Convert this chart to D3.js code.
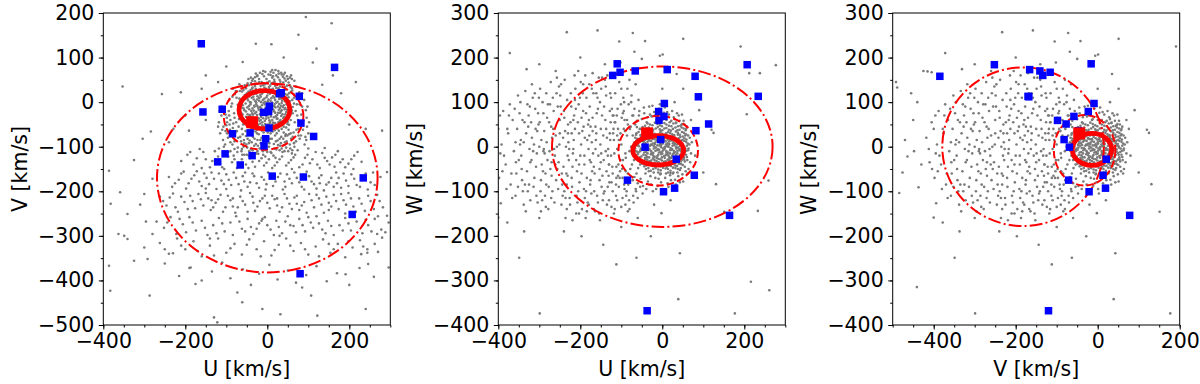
<!DOCTYPE html>
<html>
<head>
<meta charset="utf-8">
<script src="https://cdn.jsdelivr.net/npm/d3@7"></script>
<style>
  body { margin: 0; background: #fff; }
  svg.vis { display: block; font-family: "DejaVu Sans", sans-serif; }
</style>
</head>
<body>
<svg class="vis" width="1200" height="384"></svg>
<script>

// ---- data (km/s) ----

// field stars, U-V plane (left panel)
const gray_uv = [
  // thin disc core
  [-20,52],[-8,58],[3,62],[12,55],[22,60],[30,50],[38,57],[-30,47],[45,48],[5,47],[18,45],[-14,45],[28,64],[52,44],
  [-45,38],[-36,33],[-25,41],[-16,36],[-5,40],[4,34],[10,42],[19,37],[27,31],[35,40],[43,34],[55,38],[-52,31],[-3,30],[14,30],[-28,30],[60,31],
  [-62,24],[-50,20],[-41,27],[-33,18],[-22,25],[-12,21],[-4,27],[6,19],[15,24],[23,17],[31,26],[40,20],[49,16],[57,23],[-17,16],[0,15],[11,28],[36,15],[-55,16],[64,18],[-28,22],[26,23],
  [-68,8],[-58,12],[-47,4],[-38,10],[-29,2],[-20,9],[-11,5],[-2,11],[8,3],[17,10],[25,1],[34,8],[43,2],[52,11],[61,5],[-44,13],[-15,0],[3,6],[21,14],[38,13],[-33,6],[12,-1],[29,7],[47,7],[-24,13],[-6,1],
  [-72,-6],[-63,-12],[-53,-3],[-45,-9],[-36,-14],[-27,-5],[-18,-11],[-9,-2],[0,-8],[9,-14],[18,-4],[26,-10],[35,-2],[44,-13],[53,-6],[62,-11],[-40,-1],[-22,-13],[-4,-12],[14,-9],[31,-13],[49,-1],[-58,-14],[-13,-7],[5,-3],[22,-1],[40,-7],[-31,-10],
  [-66,-22],[-56,-18],[-48,-27],[-39,-20],[-30,-25],[-21,-17],[-12,-28],[-3,-19],[6,-26],[15,-18],[24,-29],[33,-21],[42,-16],[51,-26],[60,-19],[-44,-16],[-25,-29],[-8,-24],[10,-22],[28,-17],[46,-22],[-16,-21],[2,-29],[19,-24],[37,-27],[-35,-28],[56,-29],[-60,-28],
  [-61,-37],[-52,-33],[-43,-41],[-34,-35],[-24,-39],[-15,-33],[-6,-42],[3,-35],[12,-40],[21,-32],[30,-43],[39,-36],[48,-31],[57,-40],[-28,-44],[-10,-36],[7,-44],[25,-37],[43,-43],[-47,-36],[16,-34],[34,-31],[-19,-42],[-2,-31],
  [-55,-49],[-46,-56],[-36,-51],[-26,-58],[-17,-48],[-8,-55],[1,-50],[10,-57],[19,-47],[28,-53],[37,-49],[46,-57],[53,-51],[-31,-47],[-12,-52],[6,-47],[24,-59],[41,-46],[-40,-59],[15,-53],[-3,-58],
  [-25,58],[-2,52],[8,61],[17,50],[26,56],[35,62],[42,53],[-12,63],[0,44],[-35,52],[50,52],[15,66],[32,46],
  [-40,43],[-30,36],[-20,45],[-10,38],[0,43],[7,37],[15,44],[24,40],[31,35],[39,44],[48,37],[-48,42],[57,34],[22,32],[-7,33],
  [-58,27],[-46,24],[-37,30],[-27,19],[-18,28],[-8,24],[2,21],[10,25],[19,20],[28,28],[36,23],[45,28],[53,20],[61,26],[-13,19],[5,29],[44,18],
  [-64,2],[-54,7],[-42,0],[-34,12],[-25,6],[-16,12],[-7,8],[1,2],[10,9],[19,5],[28,12],[36,3],[46,10],[55,2],[65,10],[-49,9],[-20,3],[14,13],[32,11],[42,9],
  [-69,-15],[-60,-7],[-49,-12],[-41,-5],[-32,-8],[-24,-9],[-15,-14],[-6,-5],[3,-11],[11,-6],[20,-12],[29,-4],[38,-11],[47,-5],[56,-13],[65,-3],[-27,-1],[-1,-3],[17,-9],[33,-8],[51,-10],
  [-63,-25],[-52,-21],[-42,-29],[-33,-19],[-27,-22],[-18,-27],[-9,-20],[0,-24],[9,-28],[17,-21],[26,-24],[35,-18],[44,-27],[53,-20],[62,-25],[-37,-25],[-5,-16],[13,-16],[31,-24],[48,-17],
  [-57,-40],[-48,-45],[-39,-33],[-30,-40],[-21,-36],[-12,-45],[-3,-37],[5,-41],[14,-46],[23,-37],[32,-40],[41,-33],[50,-44],[-44,-31],[-16,-40],[9,-32],[27,-45],[45,-35],
  [-50,-53],[-42,-48],[-33,-56],[-22,-51],[-14,-57],[-5,-49],[4,-55],[13,-49],[22,-56],[31,-50],[40,-55],[49,-49],[-25,-62],[0,-62],[18,-63],[35,-60],
  // thick disc
  [-118,-45],[-110,-62],[-102,-28],[-96,-80],[-92,-50],[-88,-10],[-85,-95],[-80,-35],[-78,-68],[-75,10],[-73,-112],[-70,-55],[-67,25],[-64,-88],[-60,-72],[-58,-100],[-55,38],[-53,-65],[-50,-118],[-48,-82],
  [-45,-92],[-42,-70],[-40,-105],[-37,48],[-35,-78],[-32,-98],[-29,-66],[-27,-115],[-24,-85],[-21,-72],[-19,-104],[-16,-92],[-13,-64],[-11,-110],[-8,-78],[-5,-122],[-2,-88],[1,-68],[4,-100],[7,-82],
  [10,-114],[13,-66],[16,-94],[19,-75],[22,-106],[25,-86],[28,-64],[31,-98],[34,-78],[37,-112],[40,-68],[43,-90],[46,-102],[49,-75],[52,-62],[55,-95],[58,-82],[61,-108],[64,-68],[67,-45],
  [70,-88],[73,-30],[76,-60],[79,-5],[82,-75],[85,20],[88,-42],[91,-95],[94,-18],[97,-55],[-98,-70],[-94,-20],[-90,-40],[-84,-58],[-82,-120],[-76,-45],[-71,-80],[-68,40],[-62,-60],[-57,-85],
  [-44,-110],[-38,-90],[-34,-62],[-23,-98],[-14,-80],[-6,-95],[0,-112],[8,-70],[15,-120],[21,-88],[33,-92],[39,-82],[45,-72],[51,-110],[57,-70],[66,-100],[69,-20],[74,10],[81,-50],[-108,-85],
  [-104,-15],[-100,-52],[-93,5],[-87,-75],[-81,-25],[-79,18],[-65,-5],[-63,-110],[-51,-95],[-30,56],[-18,66],[-10,70],[8,68],[20,72],[34,66],[48,58],[60,52],[70,35],[78,22],[85,-10],
  [96,-35],[100,-70],[-112,-30],[-106,-100],[-84,30],[-24,60],[14,58],[40,62],[-40,55],[55,55],
  [-115,-70],[-111,-10],[-107,-55],[-103,-95],[-99,-35],[-95,-112],[-91,-62],[-86,-3],[-83,-48],[-80,-88],[-77,25],[-74,-65],[-72,-102],[-69,-38],[-66,-78],[-61,-118],[-59,-50],[-56,-92],[-52,-76],[-49,-102],
  [-46,-65],[-43,-86],[-39,-72],[-36,-108],[-31,-82],[-28,-94],[-25,-70],[-22,-116],[-17,-85],[-12,-100],[-9,-68],[-4,-108],[2,-78],[5,-92],[11,-82],[17,-104],[23,-70],[26,-96],[30,-82],[35,-104],
  [41,-96],[44,-76],[47,-88],[53,-72],[56,-104],[62,-78],[65,-92],[71,-62],[75,-40],[79,-82],[83,-28],[87,-62],[90,5],[93,-78],[98,-10],[102,-45],[-98,-45],[-90,-90],[-85,12],[-70,-20],
  [-102,-65],[-93,-30],[-64,35],[-46,52],[-28,64],[-5,68],[12,72],[27,70],[43,66],[58,60],[66,48],[72,-5],[76,-75],[95,-85],[-116,-20],[-120,-55],[-45,-120],[20,-125],[60,-115],[-80,-105],
  // halo
  [-195,-118],[-180,-140],[-165,-105],[-150,-128],[-140,-146],[-128,-110],[-115,-138],[-105,-150],[-95,-122],[-86,-135],[-74,-148],[-62,-128],[-52,-140],[-42,-126],[-30,-145],[-20,-132],[-8,-142],[4,-128],[12,-148],[24,-135],
  [36,-122],[46,-142],[58,-130],[68,-118],[78,-146],[92,-125],[104,-137],[118,-112],[128,-148],[140,-125],[152,-140],[166,-118],[178,-135],[190,-146],[205,-128],[220,-112],[-62,-105],[30,-108],[100,-104],[140,-103],
  [-160,-148],[164,-145],[-120,-122],[60,-150],[-10,-118],
  [-210,-132],[-188,-112],[-172,-126],[-156,-112],[-134,-132],[-118,-104],[-110,-146],[-90,-110],[-80,-128],[-68,-138],[-56,-118],[-46,-148],[-36,-134],[-24,-110],[-14,-126],[-2,-136],[8,-112],[18,-142],[30,-128],[42,-110],
  [52,-136],[64,-124],[74,-108],[86,-140],[98,-118],[110,-128],[122,-140],[134,-114],[146,-132],[158,-124],[172,-110],[184,-128],[198,-138],[212,-120],[230,-134],
  [-240,-168],[-225,-182],[-210,-160],[-198,-194],[-185,-172],[-172,-155],[-160,-188],[-148,-170],[-136,-158],[-124,-195],[-112,-176],[-100,-162],[-88,-186],[-76,-170],[-64,-198],[-54,-158],[-42,-180],[-32,-166],[-20,-192],[-8,-174],
  [2,-158],[14,-188],[26,-168],[38,-196],[48,-162],[60,-182],[72,-170],[84,-190],[96,-156],[108,-178],[120,-194],[132,-164],[144,-185],[156,-170],[168,-158],[180,-192],[192,-176],[205,-162],[218,-186],[232,-170],
  [245,-196],[258,-158],[-56,-178],[-4,-196],[42,-178],[88,-168],[128,-182],[-100,-195],[-150,-194],[170,-182],[210,-150],[252,-180],[276,-168],
  [-232,-190],[-216,-174],[-204,-156],[-192,-182],[-178,-164],[-166,-178],[-154,-160],[-142,-184],[-130,-172],[-118,-160],[-106,-184],[-94,-174],[-82,-158],[-70,-184],[-60,-166],[-48,-190],[-36,-160],[-26,-182],[-14,-168],[-2,-184],
  [8,-168],[20,-178],[32,-160],[44,-190],[54,-172],[66,-158],[78,-180],[90,-196],[102,-166],[114,-184],[126,-170],[138,-198],[150,-180],[162,-190],[174,-170],[186,-160],[198,-188],[212,-172],[226,-190],[240,-160],[262,-186],
  [-262,-212],[-246,-232],[-230,-205],[-218,-246],[-202,-224],[-188,-210],[-176,-238],[-162,-218],[-150,-204],[-138,-242],[-126,-226],[-114,-208],[-102,-236],[-90,-220],[-78,-248],[-66,-212],[-54,-230],[-42,-204],[-30,-244],[-18,-222],
  [-6,-210],[6,-238],[18,-218],[30,-246],[42,-206],[54,-228],[66,-214],[78,-242],[90,-224],[102,-206],[114,-236],[126,-216],[138,-248],[150,-226],[162,-208],[174,-240],[186,-220],[198,-204],[210,-234],[224,-216],
  [238,-244],[252,-222],[268,-208],[282,-236],[-84,-234],[24,-232],[72,-228],[150,-242],[-136,-220],[190,-250],[-34,-226],
  [-254,-222],[-238,-214],[-224,-236],[-210,-212],[-194,-240],[-182,-222],[-168,-206],[-156,-232],[-144,-216],[-132,-236],[-120,-218],[-108,-246],[-96,-210],[-84,-216],[-72,-236],[-60,-222],[-48,-246],[-36,-212],[-24,-234],[-12,-216],
  [0,-226],[12,-210],[24,-216],[36,-236],[48,-216],[60,-240],[72,-210],[84,-232],[96,-248],[108,-220],[120,-208],[132,-230],[144,-212],[156,-234],[168,-222],[180,-206],[192,-230],[204,-216],[216,-246],[230,-228],
  [246,-210],[260,-240],[274,-222],
  [-270,-268],[-252,-282],[-236,-258],[-222,-296],[-206,-274],[-190,-258],[-174,-288],[-160,-266],[-146,-298],[-132,-276],[-118,-260],[-104,-290],[-90,-270],[-76,-256],[-62,-284],[-48,-262],[-34,-296],[-20,-272],[-6,-258],[8,-286],
  [22,-266],[36,-294],[50,-256],[64,-278],[78,-262],[92,-290],[106,-270],[120,-256],[134,-286],[148,-266],[162,-298],[176,-276],[190,-260],[204,-288],[218,-268],[232,-294],[246,-276],[262,-262],[278,-286],[296,-270],
  [-12,-262],[-14,-266],[-40,-280],[56,-276],[112,-282],
  [-244,-270],[-214,-262],[-198,-292],[-182,-270],[-152,-282],[-124,-294],[-110,-272],[-84,-298],[-68,-268],[-54,-290],[-26,-284],[0,-276],[16,-298],[28,-280],[44,-268],[70,-292],[86,-276],[100,-258],[126,-272],[142,-294],
  [156,-278],[184,-288],[198,-272],[212,-254],[240,-264],[254,-290],[270,-256],[288,-292],
  [-262,-316],[-240,-340],[-220,-306],[-200,-330],[-180,-312],[-160,-346],[-140,-322],[-120,-306],[-100,-338],[-80,-318],[-62,-342],[-44,-308],[-26,-330],[-8,-312],[10,-344],[28,-320],[46,-306],[64,-334],[82,-316],[100,-342],
  [118,-324],[136,-308],[154,-338],[172,-318],[190,-348],[208,-326],[226,-310],[244,-338],[262,-318],[280,-304],[-140,-306],[30,-300],[150,-318],
  [-250,-330],[-210,-322],[-170,-334],[-130,-344],[-90,-328],[-50,-320],[-16,-346],[18,-332],[56,-322],[92,-330],[126,-346],[162,-330],[198,-312],[234,-324],[270,-336],
  [-250,-362],[-215,-390],[-190,-372],[-160,-400],[-135,-380],[-110,-360],[-90,-395],[-60,-375],[-40,-410],[-20,-385],[5,-365],[25,-398],[50,-378],[70,-405],[95,-388],[120,-368],[145,-402],[170,-384],[200,-410],[225,-372],[260,-392],
  // scattered outliers
  [-28,131],[94,191],[157,177],[76,151],[111,89],[216,45],[-353,35],[-257,18],[-211,22],[134,39],[-386,-154],[-359,-202],[-382,-228],[-341,-251],[-310,-230],[-300,-206],[-280,-172],[-325,-130],[-304,-82],[-284,-66],
  [-229,-60],[-191,-64],[-363,-296],[-349,-300],[-341,-307],[-296,-268],[-280,-296],[-300,-326],[-292,-352],[-325,-356],[-287,-434],[-386,-367],[-383,-423],[-230,-339],[-187,-371],[-175,-408],[-122,-494],[-130,-483],[-73,-427],[-61,-449],
  [-12,-464],[32,-476],[85,-416],[107,-434],[122,-479],[240,-464],[229,-341],[244,-330],[268,-296],[292,-255],[296,-371],[292,-157],[280,-64],[246,-363],[191,-386],[-150,60],[-120,45],[-160,30],[-200,-30],[-240,-90],
  [180,20],[200,-50],[240,-60],[160,60],[120,120],[-60,90],[40,100],[10,130],[-100,80],[-150,-40]
];

// field stars, V-W plane (centre and right panels)
const gray_vw = [
  // thin disc core
  [-30,50],[-18,54],[-6,48],[5,53],[16,47],[27,52],[38,46],[-42,47],[48,51],
  [-55,40],[-44,36],[-33,43],[-22,38],[-11,44],[0,37],[10,42],[21,36],[32,43],[42,38],[52,41],[-62,44],[-4,35],
  [-63,30],[-53,26],[-43,33],[-34,28],[-24,34],[-14,27],[-5,32],[5,26],[14,33],[24,28],[33,34],[43,27],[53,31],[-48,35],[-19,25],[9,30],[38,31],[58,28],
  [-66,20],[-57,16],[-47,23],[-38,18],[-29,24],[-19,17],[-10,22],[-1,16],[8,23],[17,18],[26,24],[35,17],[44,22],[54,19],[-52,24],[-24,20],[4,20],[30,21],[49,15],[-33,15],[13,16],
  [-68,10],[-59,6],[-50,13],[-41,8],[-32,14],[-23,7],[-14,12],[-5,6],[4,13],[13,8],[22,14],[31,7],[40,12],[49,6],[58,11],[-45,11],[-18,9],[0,10],[27,10],[45,13],[-28,5],[9,5],[36,5],[-63,14],[17,12],
  [-70,-1],[-61,3],[-52,-4],[-43,2],[-34,-3],[-25,4],[-16,-2],[-7,3],[2,-4],[11,1],[20,-3],[29,4],[38,-2],[47,3],[56,-4],[-47,-2],[-20,1],[-3,-1],[15,4],[33,0],[51,1],[-38,4],[6,0],[24,-5],[42,-5],[-11,-5],[60,2],
  [-67,-9],[-58,-13],[-49,-7],[-40,-12],[-31,-6],[-22,-14],[-13,-8],[-4,-12],[5,-6],[14,-13],[23,-7],[32,-12],[41,-8],[50,-14],[59,-9],[-54,-10],[-27,-10],[-8,-7],[10,-10],[28,-9],[46,-11],[-36,-15],[19,-15],[0,-15],[37,-15],
  [-64,-20],[-55,-24],[-46,-18],[-37,-23],[-28,-17],[-19,-22],[-10,-18],[-1,-24],[8,-19],[17,-23],[26,-17],[35,-22],[44,-18],[53,-24],[-42,-25],[-14,-25],[4,-21],[22,-25],[40,-24],[-23,-19],[58,-18],[12,-17],
  [-60,-30],[-50,-34],[-41,-28],[-32,-33],[-23,-27],[-14,-32],[-5,-28],[4,-34],[13,-29],[22,-33],[31,-27],[40,-32],[49,-29],[-36,-35],[-9,-35],[18,-26],[36,-35],[-27,-31],[55,-33],
  [-54,-40],[-44,-44],[-34,-38],[-24,-43],[-14,-39],[-4,-44],[6,-38],[16,-42],[26,-38],[36,-43],[46,-39],[-19,-36],[11,-45],[31,-37],
  [-40,-50],[-28,-54],[-16,-48],[-4,-53],[8,-49],[20,-54],[32,-48],[43,-52],[-10,-58],[14,-58],[26,-60],
  [-36,52],[-24,48],[-12,51],[-1,46],[10,50],[22,46],[33,53],[44,47],[-48,44],
  [-50,38],[-39,41],[-28,37],[-16,41],[-6,39],[5,41],[16,38],[26,40],[37,37],[47,43],[57,37],
  [-58,33],[-47,29],[-38,25],[-29,31],[-19,29],[-9,26],[0,29],[10,27],[19,31],[29,26],[38,27],[48,33],[56,25],[-64,27],
  [-61,18],[-52,20],[-42,16],[-33,21],[-23,18],[-14,17],[-5,19],[4,17],[13,21],[21,16],[30,18],[40,19],[50,23],[59,16],
  [-64,7],[-55,12],[-46,7],[-36,11],[-27,13],[-18,6],[-9,11],[1,7],[8,12],[17,6],[26,8],[35,12],[44,8],[53,13],[62,7],
  [-66,-4],[-57,1],[-48,4],[-39,-3],[-30,2],[-21,-4],[-12,3],[-3,4],[6,-3],[15,0],[25,2],[34,-4],[43,1],[52,-2],[64,-4],
  [-62,-11],[-53,-7],[-44,-13],[-35,-8],[-26,-14],[-17,-9],[-8,-13],[1,-9],[10,-14],[19,-8],[28,-14],[37,-9],[46,-6],[55,-12],[63,-8],
  [-60,-17],[-51,-22],[-40,-19],[-32,-24],[-21,-24],[-12,-21],[-3,-17],[6,-25],[15,-20],[24,-21],[33,-18],[42,-21],[51,-18],[60,-23],
  [-55,-29],[-46,-32],[-37,-29],[-28,-35],[-19,-30],[-10,-27],[-1,-31],[8,-33],[17,-30],[27,-34],[36,-28],[45,-33],[53,-28],
  [-49,-38],[-39,-42],[-29,-38],[-19,-44],[-9,-40],[1,-40],[11,-37],[21,-43],[31,-42],[41,-38],[50,-41],
  [-34,-48],[-22,-50],[-10,-51],[2,-47],[14,-50],[26,-47],[38,-50],[-4,-60],[20,-59],
  // thick disc
  [-125,-20],[-118,15],[-112,-45],[-108,40],[-104,-70],[-100,5],[-96,-30],[-92,60],[-89,-55],[-86,25],[-83,-85],[-80,-10],[-77,45],[-74,-40],[-71,70],[-68,-68],[-65,-95],[-62,58],[-59,-48],[-56,80],
  [-53,-72],[-50,62],[-47,-88],[-44,75],[-41,-60],[-38,55],[-35,-78],[-32,90],[-29,-66],[-26,68],[-23,-100],[-20,78],[-17,-70],[-14,60],[-11,-88],[-8,85],[-5,-62],[-2,68],[1,-95],[4,76],
  [7,-70],[10,60],[13,-82],[16,72],[19,-64],[22,58],[25,-92],[28,66],[31,-74],[34,54],[37,-58],[40,70],[43,-80],[46,48],[49,-62],[52,58],[55,-45],[58,40],[61,-30],[64,-50],
  [67,20],[70,-15],[66,5],[62,-60],[-121,-60],[-115,55],[-110,-5],[-106,-90],[-102,30],[-98,-50],[-94,80],[-90,-15],[-87,-100],[-84,50],[-79,-75],[-76,0],[-72,25],[-69,-30],[-66,50],[-63,-60],
  [-60,-82],[-57,70],[-54,-90],[-51,40],[-48,-105],[-45,88],[-39,-95],[-36,66],[-33,-55],[-30,72],[-27,-85],[-24,92],[-21,-58],[-18,70],[-15,-95],[-12,62],[-9,-72],[-6,95],[-3,-80],[0,60],
  [3,-105],[6,88],[9,-60],[12,78],[15,-90],[18,55],[21,-75],[24,80],[27,-58],[30,62],[33,-85],[36,75],[39,-66],[42,58],[45,-48],[48,72],[51,-78],[54,50],[57,-55],[60,45],
  [63,25],[68,-35],[72,10],[-128,30],[-130,-40],[-124,-80],[-119,70],[-113,-110],[-109,85],[-97,-115],[-93,100],
  // halo
  [-418,20],[-410,-35],[-405,55],[-398,-70],[-392,5],[-388,80],[-382,-40],[-376,30],[-370,-85],[-365,60],[-362,-10],[-400,40],[-380,-95],[-372,95],[-395,-15],
  [-358,-110],[-354,40],[-350,-30],[-346,100],[-342,-75],[-338,10],[-334,125],[-330,-55],[-326,70],[-322,-120],[-318,20],[-314,-90],[-310,85],[-306,-15],[-302,50],[-356,-60],[-348,75],[-340,-100],[-332,30],[-324,-5],
  [-316,110],[-308,-45],[-304,-125],[-344,-20],[-320,55],[-312,-70],
  [-298,130],[-294,-40],[-290,75],[-286,-110],[-282,10],[-278,-140],[-274,95],[-270,-65],[-266,40],[-262,-20],[-258,120],[-254,-95],[-250,60],[-246,-130],[-242,20],[-296,-75],[-288,35],[-280,-30],[-272,145],[-264,-5],
  [-256,-50],[-248,90],[-244,-85],[-292,100],[-284,-135],[-276,55],[-268,-100],[-260,25],[-252,135],[-241,-45],[-300,0],[-285,-60],[-265,80],
  [-238,150],[-234,-60],[-230,30],[-226,-115],[-222,90],[-218,-15],[-214,160],[-210,-150],[-206,55],[-202,-80],[-198,5],[-194,120],[-190,-40],[-186,75],[-182,-125],[-178,25],[-236,-160],[-232,105],[-228,-30],[-224,55],
  [-220,-90],[-216,15],[-212,130],[-208,-55],[-204,95],[-200,-20],[-196,-140],[-192,45],[-188,160],[-184,-70],[-180,-5],[-235,0],[-225,-130],[-215,70],[-205,-100],[-195,35],[-185,110],[-239,65],[-219,-45],[-199,145],
  [-187,-160],
  [-178,140],[-174,-35],[-170,65],[-166,-100],[-162,15],[-158,110],[-154,-150],[-150,40],[-146,-65],[-142,90],[-138,-10],[-134,160],[-130,-120],[-126,55],[-122,-45],[-176,-85],[-172,10],[-168,120],[-164,-145],[-160,75],
  [-156,-20],[-152,100],[-148,-90],[-144,25],[-140,150],[-136,-55],[-132,-5],[-128,80],[-124,-135],[-120,30],[-175,45],[-165,-60],[-155,155],[-145,-120],[-135,20],[-125,110],[-179,-130],[-169,-15],[-159,-110],[-149,130],
  [-139,60],[-129,-80],
  [-118,-150],[-115,120],[-110,-120],[-105,145],[-100,-135],[-95,110],[-90,-130],[-85,130],[-80,-140],[-75,115],[-70,-125],[-65,140],[-60,-115],
  [-345,15],[-335,-85],[-327,45],[-319,-30],[-311,120],[-303,75],[-297,-100],[-289,-5],[-281,65],[-273,-50],[-267,110],[-259,-75],[-251,5],[-243,-110],[-237,35],[-231,-65],[-223,120],[-217,-5],[-211,85],[-203,-40],
  [-197,65],[-191,-95],[-183,15],[-177,90],[-171,-55],[-163,45],[-157,-125],[-151,5],[-143,-30],[-137,115],[-131,-65],[-123,85],[-117,-15],[-111,70],[-107,-40],[-101,95],[-97,-70],[-91,35],[-88,-110],[-82,95],
  [-78,-50],[-73,70],[-343,-50],[-329,95],[-313,5],[-299,55],[-283,-85],[-269,20],[-253,-35],[-239,-100],[-227,-5],[-213,40],[-201,110],[-189,-115],[-179,60],[-167,-45],[-153,-75],[-141,-100],[-127,15],[-113,-85],
  [-99,65],[-89,-25],[-79,40],[-71,-110],[-358,10],[-338,-130],[-322,-35],[-305,35],[-287,-15],[-271,-115],[-255,90],[-233,-85],[-221,30],[-207,-125],[-193,80],[-173,-105],[-161,30],[-147,70],[-133,-90],[-119,40],
  [-103,-55],[-93,-85],
  [-412,-5],[-404,-50],[-396,70],[-386,-20],[-378,40],[-368,-60],[-360,85],[-352,-90],[-347,5],[-336,55],[-328,-100],[-323,90],[-315,-10],[-307,-110],[-301,110],[-295,15],[-291,-55],[-283,120],[-277,-90],[-271,45],
  [-263,-125],[-257,0],[-249,115],[-245,-60],[-240,80],[-233,-140],[-229,10],[-221,-70],[-213,105],[-209,-110],[-203,30],[-197,-60],[-193,140],[-186,-100],[-181,50],[-177,-30],[-172,130],[-167,-140],[-163,-5],[-157,85],
  [-153,-50],[-147,155],[-143,-105],[-137,40],[-133,-20],[-127,120],[-121,-100],[-116,55],[-112,-70],[-106,15],[-102,-30],[-96,75],[-92,-95],[-86,60],[-81,-120],[-76,100],[-72,-75],[-68,85],[-64,-100],[-58,105],
  [-390,-55],[-374,70],[-357,-35],[-341,60],[-325,-85],[-309,40],[-293,-120],[-279,95],[-261,-40],[-247,140],[-231,-20],[-217,60],[-203,-150],[-189,20],[-175,-75],[-161,120],[-149,-15],[-135,-130],[-121,70],[-108,-65],
  [-94,40],[-84,-60],[-74,0],[-366,-115],[-352,115],[-333,-145],[-318,140],[-296,-145],[-275,-10],[-257,155],[-236,-115],[-219,-165],[-205,170],[-184,-145],[-170,165],[-152,-165],[-138,135],[-116,-140],[-100,130],[-84,-145],
  [-290,-10],[-250,30],[-210,-30],[-170,35],[-130,-40],[-270,-35],[-230,50],[-190,-20],[-150,-35],[-110,25],
  // scattered outliers
  [-233,257],[-158,261],[-72,255],[-42,237],[51,242],[-105,236],[-68,213],[1,207],[-6,204],[-50,197],[-102,189],[-331,174],[-372,210],[-425,170],[-415,169],[-405,167],[-492,145],[-489,133],[191,225],[90,82],
  [35,163],[51,130],[76,40],[120,38],[125,31],[100,-58],[131,-84],[151,-146],[43,-239],[39,-342],[177,-374],[-299,-374],[-349,-249],[-441,-315],[-112,-264],[-63,-249],[-144,-220],[-197,-201],[-28,-201],[-2,-149],
  [-337,-190],[-378,-170],[-400,-159],[-437,-91],[-476,-58],[-464,-22],[-470,15],[-484,-104],[-394,-127],[-450,60],[-440,100],[-430,-40],[80,-20],[70,60],[-20,-130],[20,-120],[-60,-160],[-100,-180],[-240,-190],[-300,-160],
  [-260,170],[-300,185],[-200,200],[-140,185],[-80,150],[0,130],[30,100],[-455,120],[-448,-10],[277,183],[261,-322],[216,-303],[212,165],[238,165],[206,73],[233,-144],[259,-76]
];

// programme stars (blue squares); null = outside every plotted W range
const star_u = [-110, 207, -121, -103, -66, 12, 80, 88, 234, 5, -9, -8, 4, 113, 82, -4, -42, 34, 78, -85, 3, 30, 164, -37, -161, -157];
const star_v = [-16, -252, -134, -116, -141, -166, -385, -168, -170, -9, -23, -98, -58, -77, -47, -82, -69, 21, 13, -71, -21, 19, 78, -120, 131, -22];
const star_w = [186, 184, 160, 167, 170, 173, 158, 112, 113, 97, 79, 59, 68, 51, 36, 16, -1, -28, -64, -75, -101, -93, -154, -368, null, null];

// highlighted star (red square)
const red_u = [-37];
const red_v = [-45];
const red_w = [30];

// population ellipses: [centre x, centre y, semi-axis x, semi-axis y]
const ell_kind = ["thin", "thick", "halo"];
const ell_uv = [[-7, -17, 62, 43], [-9, -32, 97, 75], [0, -170, 269, 212]];
const ell_uw = [[-10, -8, 62, 33], [-10, -9, 97, 78], [0, 0, 269, 180]];
const ell_vw = [[-14, -6, 48, 36], [-32, -8, 75, 79], [-182, 0, 197, 178]];

// axes
const x_ticks = [-400, -200, 0, 200];
const y_ticks_v = [-500, -400, -300, -200, -100, 0, 100, 200];
const y_ticks_w = [-400, -300, -200, -100, 0, 100, 200, 300];


const vis = {

    refs: {
        svg: "svg.vis"
    },

    sels: {
        svg: null
    },

    dims: {
        top: 13,
        pw: 287,
        ph: 312,
        lefts: [103.3, 498.3, 892.7],
        font: 20.5
    },

    styles: {
        thin:  { w: 4.8, dash: null },
        thick: { w: 2, dash: "7.4,3.2" },
        halo:  { w: 2, dash: "12.8,3.2,2,3.2" }
    },

    f: {

        generates_refs: function() {
            vis.sels.svg = d3.select(vis.refs.svg);
        },

        panels: function() {

            const stars = (xs, ys) => xs.map((d, i) => [d, ys[i]]).filter(d => d[0] != null && d[1] != null);

            return [
                { xdom: [-400, 300], ydom: [-500, 200], yt: y_ticks_v, xl: "U [km/s]", yl: "V [km/s]",
                  gray: gray_uv, blue: stars(star_u, star_v), red: stars(red_u, red_v), ell: ell_uv },
                { xdom: [-400, 300], ydom: [-400, 300], yt: y_ticks_w, xl: "U [km/s]", yl: "W [km/s]",
                  gray: gray_vw, blue: stars(star_u, star_w), red: stars(red_u, red_w), ell: ell_uw },
                { xdom: [-500, 200], ydom: [-400, 300], yt: y_ticks_w, xl: "V [km/s]", yl: "W [km/s]",
                  gray: gray_vw, blue: stars(star_v, star_w), red: stars(red_v, red_w), ell: ell_vw }
            ];
        }

    },

    draw: {

        panel: function(p, i) {

            const d = vis.dims;
            const fmt = d3.format("d");

            const x = d3.scaleLinear().domain(p.xdom).range([0, d.pw]);
            const y = d3.scaleLinear().domain(p.ydom).range([d.ph, 0]);

            const g = vis.sels.svg.append("g")
                .attr("transform", `translate(${d.lefts[i]},${d.top})`);

            g.append("clipPath").attr("id", "clip" + i)
                .append("rect").attr("width", d.pw).attr("height", d.ph);

            const plot = g.append("g").attr("clip-path", `url(#clip${i})`);

            // field stars
            plot.append("g")
                .selectAll("circle")
                .data(p.gray)
                .join("circle")
                .attr("cx", v => x(v[0]))
                .attr("cy", v => y(v[1]))
                .attr("r", 1.3)
                .attr("fill", "#7a7a7a");

            // ellipses
            plot.append("g")
                .selectAll("ellipse")
                .data(p.ell)
                .join("ellipse")
                .attr("cx", v => x(v[0]))
                .attr("cy", v => y(v[1]))
                .attr("rx", v => x(v[0] + v[2]) - x(v[0]))
                .attr("ry", v => y(v[1]) - y(v[1] + v[3]))
                .attr("fill", "none")
                .attr("stroke", "#ff0000")
                .attr("stroke-width", (v, k) => vis.styles[ell_kind[k]].w)
                .attr("stroke-dasharray", (v, k) => vis.styles[ell_kind[k]].dash);

            // programme stars
            const sq = (sel, data, s, col) => sel.append("g")
                .selectAll("rect")
                .data(data)
                .join("rect")
                .attr("x", v => x(v[0]) - s / 2)
                .attr("y", v => y(v[1]) - s / 2)
                .attr("width", s)
                .attr("height", s)
                .attr("fill", col);

            sq(plot, p.blue, 7.5, "#0000ff");
            sq(plot, p.red, 12, "#ff0000");

            // axes
            const styleAxis = (a) => {
                a.select(".domain").remove();
                a.selectAll("line").attr("stroke", "#000").attr("stroke-width", 1);
                a.selectAll("text").attr("fill", "#000")
                    .style("font-size", d.font + "px")
                    .style("font-family", "'DejaVu Sans', sans-serif");
            };

            g.append("g").attr("transform", `translate(0,${d.ph})`)
                .call(d3.axisBottom(x).tickValues(d3.range(p.xdom[0], p.xdom[1] + 1, 50)).tickSize(2.5).tickFormat(""))
                .call(styleAxis);
            g.append("g").attr("transform", `translate(0,${d.ph})`)
                .call(d3.axisBottom(x).tickValues(x_ticks).tickSize(4.5).tickPadding(3.5).tickFormat(fmt))
                .call(styleAxis);

            g.append("g")
                .call(d3.axisLeft(y).tickValues(d3.range(p.ydom[0], p.ydom[1] + 1, 50)).tickSize(2.5).tickFormat(""))
                .call(styleAxis);
            g.append("g")
                .call(d3.axisLeft(y).tickValues(p.yt).tickSize(4.5).tickPadding(4.5).tickFormat(fmt))
                .call(styleAxis);

            // frame
            g.append("rect")
                .attr("width", d.pw)
                .attr("height", d.ph)
                .attr("fill", "none")
                .attr("stroke", "#000")
                .attr("stroke-width", 1);

            // labels
            g.append("text")
                .attr("x", d.pw / 2)
                .attr("y", d.ph + 51)
                .attr("text-anchor", "middle")
                .style("font-size", d.font + "px")
                .text(p.xl);

            g.append("text")
                .attr("transform", `translate(-76.5,${d.ph / 2}) rotate(-90)`)
                .attr("text-anchor", "middle")
                .style("font-size", d.font + "px")
                .text(p.yl);
        }

    },

    control: {

        init: function() {
            vis.f.generates_refs();
            vis.f.panels().forEach((p, i) => vis.draw.panel(p, i));
        }

    }

};

vis.control.init();
</script>
</body>
</html>
